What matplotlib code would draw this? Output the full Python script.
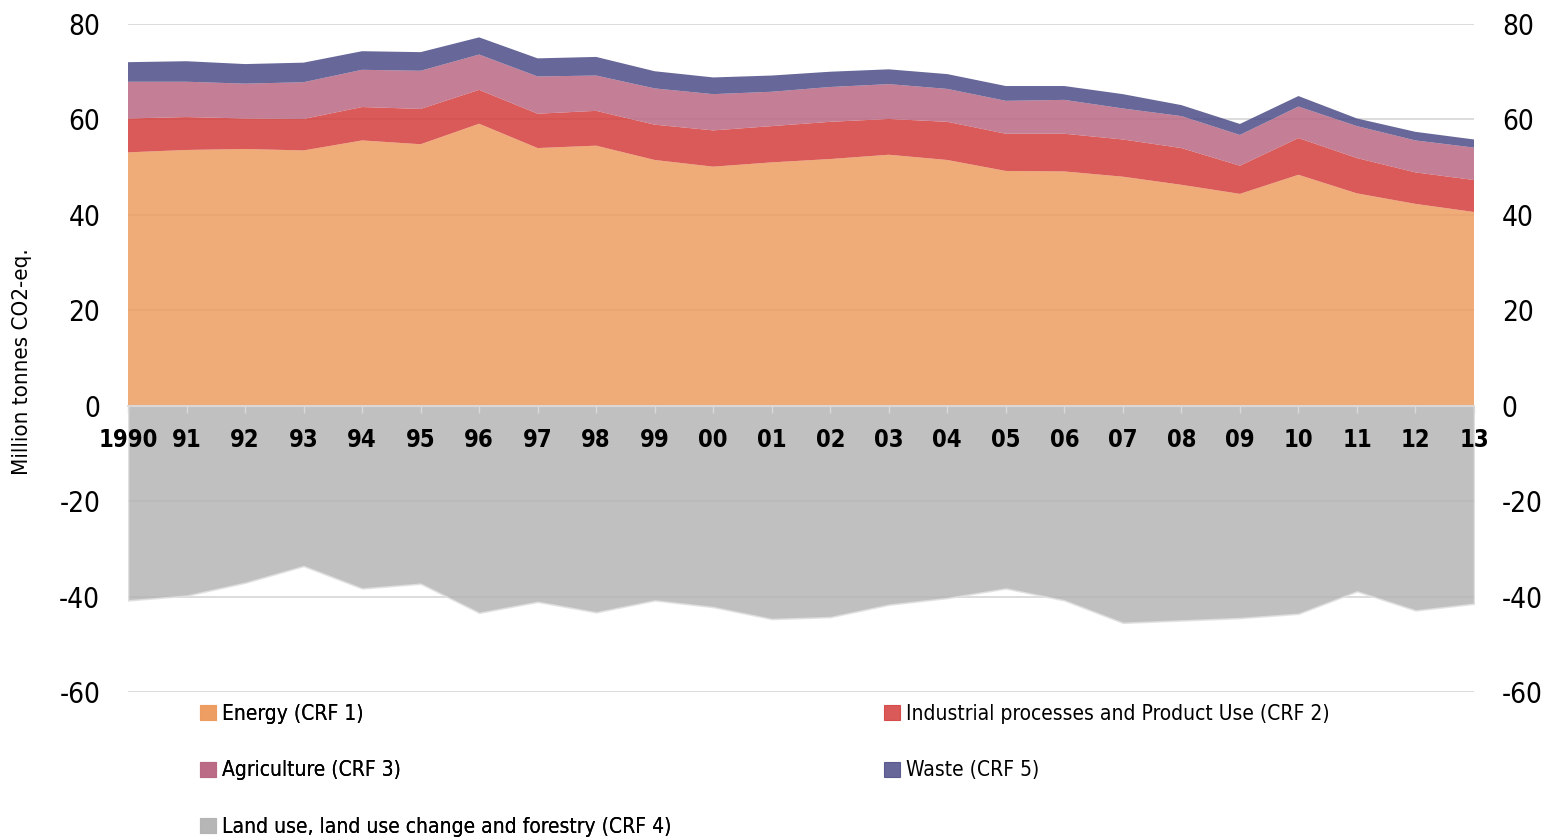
import matplotlib
matplotlib.use("Agg")
import matplotlib.pyplot as plt
from matplotlib.patches import Patch
import numpy as np

plt.rcParams['font.family'] = ['DejaVu Sans']
plt.rcParams['font.stretch'] = 'condensed'

years = list(range(1990, 2014))
year_labels = ["1990", "91", "92", "93", "94", "95", "96", "97", "98", "99", "00",
               "01", "02", "03", "04", "05", "06", "07", "08", "09", "10", "11", "12", "13"]

energy = [53.1, 53.6, 53.8, 53.5, 55.6, 54.8, 59.1, 54.0, 54.5, 51.5, 50.1, 51.0,
          51.7, 52.6, 51.5, 49.2, 49.1, 48.0, 46.3, 44.4, 48.4, 44.5, 42.3, 40.6]
industrial = [7.1, 6.9, 6.4, 6.6, 7.0, 7.4, 7.1, 7.2, 7.3, 7.4, 7.6, 7.6,
              7.8, 7.5, 8.0, 7.8, 7.9, 7.8, 7.7, 5.9, 7.7, 7.4, 6.6, 6.7]
agriculture = [7.7, 7.4, 7.3, 7.7, 7.8, 8.0, 7.4, 7.8, 7.4, 7.6, 7.6, 7.2,
               7.3, 7.3, 6.9, 6.9, 7.1, 6.5, 6.7, 6.45, 6.6, 6.7, 6.7, 6.8]
waste = [4.1, 4.3, 4.1, 4.1, 3.9, 3.9, 3.6, 3.8, 3.9, 3.6, 3.5, 3.4,
         3.2, 3.1, 3.1, 3.1, 2.9, 3.0, 2.3, 2.3, 2.2, 1.6, 1.8, 1.7]
lulucf = [-40.8, -39.8, -37.1, -33.6, -38.3, -37.3, -43.4, -41.1, -43.3, -40.8, -42.2, -44.7,
          -44.3, -41.7, -40.3, -38.3, -40.8, -45.5, -45.0, -44.5, -43.6, -38.9, -42.9, -41.5]

labels = ["Energy (CRF 1)", "Industrial processes and Product Use (CRF 2)",
          "Agriculture (CRF 3)", "Waste (CRF 5)",
          "Land use, land use change and forestry (CRF 4)"]

c_energy = (237/255, 157/255, 96/255)
c_ind = (211/255, 61/255, 59/255)
c_agr = (186/255, 104/255, 131/255)
c_waste = (76/255, 76/255, 135/255)
c_lulucf = (181/255, 181/255, 181/255)
alpha = 0.85

W, H = 1552, 838
fig = plt.figure(figsize=(W/100, H/100), dpi=100)
ax = fig.add_axes([128/W, 1 - 692/H, (1474-128)/W, (692-24)/H])

x = np.array(years)
ax.stackplot(x, energy, industrial, agriculture, waste,
             colors=[c_energy, c_ind, c_agr, c_waste], alpha=alpha, zorder=1, lw=0)
ax.fill_between(x, lulucf, 0, color=c_lulucf, alpha=alpha, zorder=1, lw=1.2,
                edgecolor=(0.88, 0.88, 0.88))

yt = [-60, -40, -20, 0, 20, 40, 60, 80]
for v in yt:
    if v != 0:
        ax.axhline(v, color='#d9d9d9', lw=1.3, zorder=0.5)

ax.set_xlim(1990, 2013)
ax.set_ylim(-60, 80)
ax.set_yticks(yt)
ax.set_yticklabels([str(v) for v in yt])
ax.set_xticks(years)
ax.set_xticklabels(year_labels)

ax.set_axisbelow(False)
for s in ['top', 'left', 'right']:
    ax.spines[s].set_visible(False)
ax.spines['bottom'].set_position(('data', 0))
ax.spines['bottom'].set_color('#d9d9d9')
ax.spines['bottom'].set_linewidth(1.3)
ax.spines['bottom'].set_zorder(3)

ax.tick_params(axis='x', direction='out', length=5, width=1, color='#d9d9d9', pad=11,
               labelsize=17)
for t in ax.get_xticklabels():
    t.set_fontweight('bold')
ax.tick_params(axis='y', length=0, labelsize=20, pad=20, labelright=True)

fig.text(22/W, 1 - 362/H, "Million tonnes CO2-eq.", rotation=90, fontsize=16,
         ha='center', va='center')

def lp(c):
    return Patch(facecolor=c, alpha=alpha, edgecolor=c, lw=0.8)

kw = dict(loc='upper left', frameon=False, fontsize=15, handlelength=0.75, handleheight=0.75,
          handletextpad=0.3, labelspacing=1.75, borderpad=0, borderaxespad=0)
leg1 = fig.legend([lp(c_energy), lp(c_agr), lp(c_lulucf)],
                  [labels[0], labels[2], labels[4]],
                  bbox_to_anchor=(200/W, 1 - 704/H), **kw)
leg2 = fig.legend([lp(c_ind), lp(c_waste)],
                  [labels[1], labels[3]],
                  bbox_to_anchor=(884/W, 1 - 704/H), **kw)
fig.add_artist(leg1)

fig.savefig("out.png", dpi=100)
